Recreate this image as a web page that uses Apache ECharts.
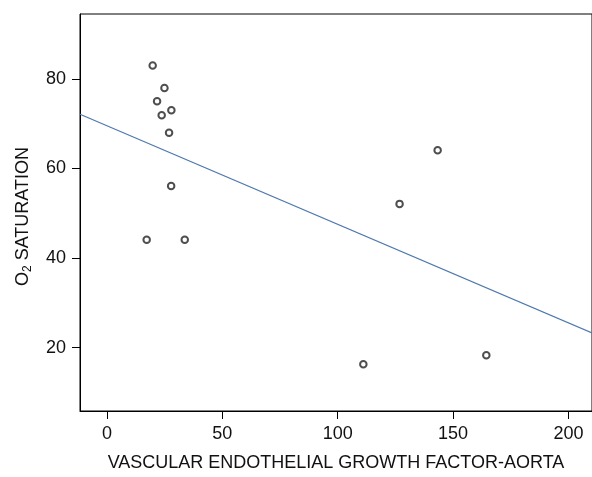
<!DOCTYPE html>
<html>
<head>
<meta charset="utf-8">
<script src="https://cdn.jsdelivr.net/npm/echarts@6/dist/echarts.min.js"></script>
<style>html,body{margin:0;padding:0;background:#fff}#c{width:592px;height:477px}</style>
</head>
<body>
<div id="c"></div>
<script>
// Data
const vegfAorta = [19.8, 24.9, 21.7, 27.9, 23.7, 26.9, 27.8, 17.2, 33.7, 143.3, 126.8, 111.1, 164.4];
const o2Saturation = [83.0, 78.0, 75.0, 73.0, 71.9, 68.0, 56.1, 44.1, 44.1, 64.1, 52.1, 16.3, 18.3];
// Fitted regression line endpoints (x, y)
const fitX = [-11.7, 210.2];
const fitY = [72.1, 23.3];
const xTicks = [0, 50, 100, 150, 200];
const yTicks = [20, 40, 60, 80];

const points = vegfAorta.map((x, i) => [x, o2Saturation[i]]);
const fitLine = fitX.map((x, i) => [x, fitY[i]]);

const font = 'Liberation Sans, Arial, Helvetica, sans-serif';
const chart = echarts.init(document.getElementById('c'), null, {renderer: 'canvas'});
chart.setOption({
  animation: false,
  backgroundColor: '#fff',
  grid: {left: 80, top: 14, right: -1, bottom: 60, show: true, borderColor: '#000', borderWidth: 1, backgroundColor: 'transparent'},
  xAxis: {
    type: 'value', min: -11.7, max: 210.2,
    splitLine: {show: false},
    axisLine: {show: true, onZero: false, lineStyle: {color: '#000', width: 1}},
    axisTick: {show: true, length: 8, lineStyle: {color: '#000'}, customValues: xTicks},
    axisLabel: {customValues: xTicks, margin: 14, fontSize: 18, color: '#111', fontFamily: font},
    name: 'VASCULAR ENDOTHELIAL GROWTH FACTOR-AORTA',
    nameLocation: 'middle', nameGap: 43,
    nameTextStyle: {fontSize: 18, color: '#111', fontFamily: font}
  },
  yAxis: {
    type: 'value', min: 5.85, max: 94.5,
    splitLine: {show: false},
    axisLine: {show: true, onZero: false, lineStyle: {color: '#000', width: 1}},
    axisTick: {show: true, length: 8, lineStyle: {color: '#000'}, customValues: yTicks},
    axisLabel: {customValues: yTicks, margin: 14, fontSize: 18, color: '#111', fontFamily: font},
    name: 'O{sub|2} SATURATION',
    nameLocation: 'middle', nameGap: 46, nameRotate: 90,
    nameTextStyle: {fontSize: 18, color: '#111', fontFamily: font, padding: [0, 8, 0, 0],
      rich: {sub: {fontSize: 12, color: '#111', fontFamily: font, verticalAlign: 'bottom', padding: [10, 0, 0, 0]}}}
  },
  series: [
    {
      type: 'line', data: fitLine, showSymbol: false, clip: true,
      lineStyle: {color: '#4f79ad', width: 1.2}, silent: true
    },
    {
      type: 'scatter', data: points, symbol: 'emptyCircle', symbolSize: 6.5,
      itemStyle: {color: '#222', borderColor: '#222', borderWidth: 0.9}
    }
  ]
});
</script>
</body>
</html>
